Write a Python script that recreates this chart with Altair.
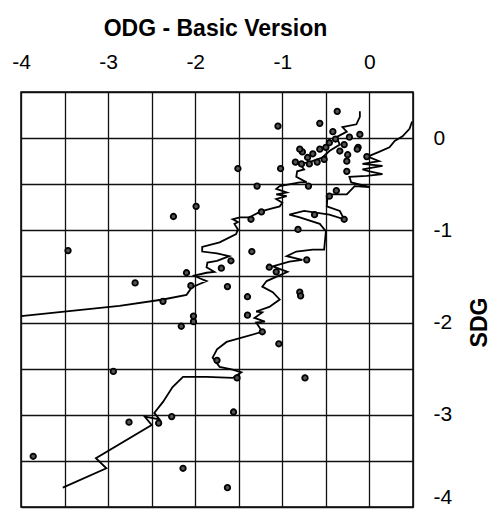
import altair as alt
import pandas as pd

# ---- data ----
grid_x = [-4, -3.5, -3, -2.5, -2, -1.5, -1, -0.5, 0, 0.5]
grid_y = [-4, -3.5, -3, -2.5, -2, -1.5, -1, -0.5, 0, 0.5]

pts_odg = [-0.37, -0.57, -0.42, -0.11, -0.23, -0.29, -0.13, -0.77, -0.80, -0.71,
           -0.65, -0.57, -0.50, -0.46, -0.39, -0.34, -0.25, -0.26, -0.26, -0.52,
           -0.60, -0.69, -0.78, -0.85, -1.05, -1.51, -1.02, -1.29, -0.70, -1.99,
           -2.25, -3.46, -0.46, -0.38, -0.82, -0.63, -0.29, -1.24, -1.36, -1.35,
           -0.72, -1.15, -1.07, -0.80, -1.40, -2.69, -2.10, -2.05, -1.70, -1.59,
           -1.63, -2.37, -2.02, -2.02, -2.16, -1.40, -1.23, -0.79, -1.04, -1.75,
           -1.52, -0.74, -2.94, -1.56, -2.27, -2.76, -2.42, -3.86, -2.14, -1.63,
           -0.03, -0.14]
pts_sdg = [0.29, 0.16, 0.07, 0.04, 0.01, -0.07, -0.10, -0.15, -0.12, -0.21,
           -0.17, -0.12, -0.10, -0.05, -0.01, -0.14, -0.18, -0.25, -0.36, -0.23,
           -0.26, -0.28, -0.28, -0.26, 0.13, -0.33, -0.33, -0.52, -0.52, -0.74,
           -0.85, -1.22, -0.63, -0.57, -0.99, -0.83, -0.88, -0.80, -0.88, -1.23,
           -1.32, -1.40, -1.45, -1.67, -1.72, -1.57, -1.46, -1.60, -1.41, -1.33,
           -1.61, -1.77, -1.93, -1.99, -2.04, -1.92, -2.10, -1.71, -2.23, -2.41,
           -2.60, -2.60, -2.53, -2.97, -3.02, -3.08, -3.09, -3.45, -3.58, -3.79,
           -0.20, -0.12]

curve_a_odg = [-4.00, -2.87, -2.37, -2.10, -2.04, -1.97, -1.87, -1.95, -2.01, -1.87,
               -1.78, -1.87, -1.86, -1.75, -1.61, -1.75, -1.92, -1.92, -1.72, -1.53,
               -1.51, -1.55, -1.51, -1.57, -1.49, -1.38, -1.26, -1.15, -1.03, -1.00,
               -1.07, -0.95, -1.07, -0.95, -1.07, -1.03, -0.80, -0.72, -0.84, -0.83,
               -0.75, -0.80, -0.69, -0.54, -0.46, -0.34, -0.38, -0.26, -0.31, -0.15,
               -0.11, -0.11]
curve_a_sdg = [-1.93, -1.82, -1.75, -1.70, -1.62, -1.59, -1.55, -1.52, -1.49, -1.46,
               -1.45, -1.40, -1.35, -1.33, -1.28, -1.25, -1.23, -1.18, -1.13, -1.04,
               -0.99, -0.93, -0.91, -0.88, -0.86, -0.86, -0.80, -0.77, -0.74, -0.70,
               -0.66, -0.63, -0.61, -0.59, -0.55, -0.52, -0.48, -0.48, -0.42, -0.36,
               -0.34, -0.28, -0.26, -0.21, -0.14, -0.07, 0.01, 0.07, 0.12, 0.15,
               0.23, 0.29]

curve_b_odg = [-3.52, -3.02, -3.14, -2.50, -2.58, -2.41, -2.47, -2.37, -2.26, -2.14,
               -1.87, -1.57, -1.47, -1.57, -1.72, -1.80, -1.75, -1.64, -1.23, -1.30,
               -1.20, -1.32, -1.23, -1.30, -1.15, -1.03, -1.11, -1.23, -1.18, -0.94,
               -1.11, -0.92, -0.77, -0.95, -0.84, -0.65, -0.52, -0.50, -0.57, -0.80,
               -0.92, -0.75, -0.46, -0.29, -0.34, -0.49, -0.48, -0.26, -0.17, 0.00,
               -0.21, -0.23, -0.03, 0.15, 0.00, -0.08, 0.15, -0.08, 0.11, -0.02,
               0.11, 0.23, 0.29, 0.38, 0.46, 0.49]
curve_b_sdg = [-3.79, -3.58, -3.47, -3.11, -3.02, -3.05, -2.98, -2.86, -2.70, -2.59,
               -2.59, -2.60, -2.54, -2.51, -2.48, -2.38, -2.29, -2.21, -2.10, -2.00,
               -1.99, -1.95, -1.89, -1.88, -1.83, -1.75, -1.67, -1.61, -1.55, -1.45,
               -1.39, -1.34, -1.32, -1.28, -1.23, -1.21, -1.21, -1.01, -0.93, -0.86,
               -0.83, -0.79, -0.83, -0.88, -0.79, -0.74, -0.61, -0.61, -0.52, -0.53,
               -0.48, -0.42, -0.41, -0.39, -0.36, -0.34, -0.30, -0.28, -0.25, -0.20,
               -0.15, -0.10, -0.03, 0.02, 0.10, 0.18]

# ---- tables ----
lines = pd.concat([
    pd.DataFrame({"odg": curve_a_odg, "sdg": curve_a_sdg, "curve": "a",
                  "idx": range(len(curve_a_odg))}),
    pd.DataFrame({"odg": curve_b_odg, "sdg": curve_b_sdg, "curve": "b",
                  "idx": range(len(curve_b_odg))}),
])
points = pd.DataFrame({"odg": pts_odg, "sdg": pts_sdg})

FONT = "Liberation Sans"
lab_expr = "datum.value % 1 == 0 ? '' + datum.value : ''"

x_enc = alt.X(
    "odg:Q",
    scale=alt.Scale(domain=[-4, 0.5], nice=False, zero=False),
    axis=alt.Axis(
        orient="top", values=grid_x, labelExpr=lab_expr, grid=True,
        tickSize=0, domain=False, labelPadding=30, labelBaseline="middle",
        labelFlush=False, labelOverlap=False, title="ODG - Basic Version",
        titleX=194, titleY=-64, titleAlign="center", titleBaseline="middle",
    ),
)
y_enc = alt.Y(
    "sdg:Q",
    scale=alt.Scale(domain=[-4, 0.5], nice=False, zero=False),
    axis=alt.Axis(
        orient="right", values=grid_y, labelExpr=lab_expr, grid=True,
        tickSize=0, domain=False, labelPadding=20, labelFlush=True,
        labelOverlap=False, title="SDG", titleAngle=270,
        titleX=66, titleY=230, titleAlign="center", titleBaseline="middle",
    ),
)

line_layer = alt.Chart(lines).mark_line(color="black", strokeWidth=1.8).encode(
    x=x_enc, y=y_enc, detail="curve:N", order="idx:Q"
)
point_layer = alt.Chart(points).mark_point(
    shape="circle", filled=True, fill="#555", stroke="black",
    strokeWidth=1.8, size=30, opacity=1, fillOpacity=1, strokeOpacity=1
).encode(x=x_enc, y=y_enc)

chart = (
    alt.layer(line_layer, point_layer)
    .properties(
        width=392, height=415,
        background="white",
        autosize=alt.AutoSizeParams(type="none"),
        padding={"left": 21, "top": 92, "right": 81, "bottom": 6},
    )
    .configure_view(stroke="black", strokeWidth=1.5)
    .configure_axis(
        gridColor="#111", gridWidth=1.3, gridOpacity=1,
        labelFont=FONT, labelFontSize=21, labelColor="black",
        titleFont=FONT, titleFontSize=23, titleFontWeight="bold", titleColor="black",
    )
)

chart.save("out.html", embed_options={"renderer": "svg", "actions": False})
